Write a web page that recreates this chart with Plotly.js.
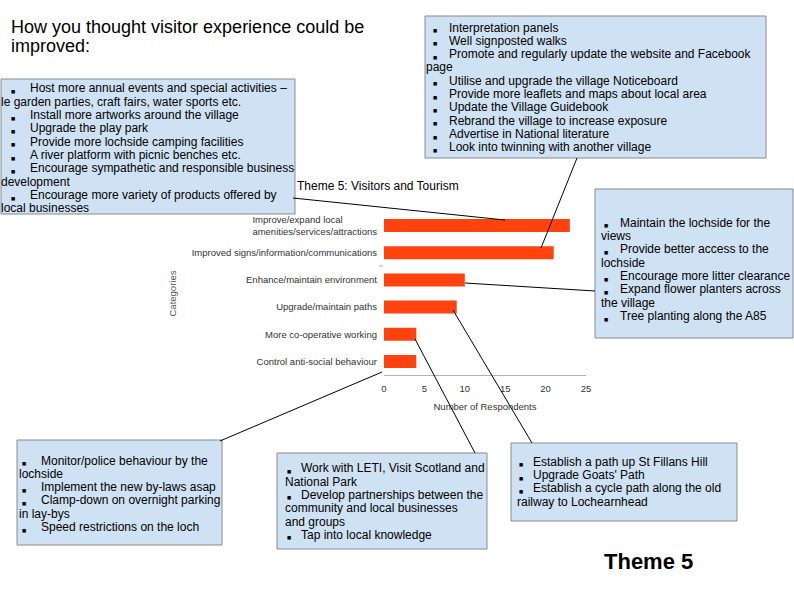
<!DOCTYPE html>
<html>
<head>
<meta charset="utf-8">
<script src="https://cdn.plot.ly/plotly-3.0.1.min.js"></script>
<style>html,body{margin:0;padding:0;background:#fff;}#chart{width:794px;height:595px;}</style>
</head>
<body>
<div id="chart"></div>
<script>
// ---------- data ----------
const categories = [
  "Improve/expand local amenities/services/attractions",
  "Improved signs/information/communications",
  "Enhance/maintain environment",
  "Upgrade/maintain paths",
  "More co-operative working",
  "Control anti-social behaviour"
];
const responses = [23, 21, 10, 9, 4, 4];
const xTicks = [0, 5, 10, 15, 20, 25];

const pageTitle = ["How you thought visitor experience could be", "improved:"];
const chartTitle = "Theme 5: Visitors and Tourism";
const xTitle = "Number of Respondents";
const yTitle = "Categories";
const footer = "Theme 5";

// callout texts (each item: first line gets a bullet, later lines are wrapped continuation)
const amenitiesIdeas = [
  ["Host more annual events and special activities \u2013", "le garden parties, craft fairs, water sports etc."],
  ["Install more artworks around the village"],
  ["Upgrade the play park"],
  ["Provide more lochside camping facilities"],
  ["A river platform with picnic benches etc."],
  ["Encourage sympathetic and responsible business", "development"],
  ["Encourage more variety of products offered by", "local businesses"]
];
const signsIdeas = [
  ["Interpretation panels"],
  ["Well signposted walks"],
  ["Promote and regularly update the website and Facebook", "page"],
  ["Utilise and upgrade the village Noticeboard"],
  ["Provide more leaflets and maps about local area"],
  ["Update the Village Guidebook"],
  ["Rebrand the village to increase exposure"],
  ["Advertise in National literature"],
  ["Look into twinning with another village"]
];
const environmentIdeas = [
  ["Maintain the lochside for the", "views"],
  ["Provide better access to the", "lochside"],
  ["Encourage more litter clearance"],
  ["Expand flower planters across", "the village"],
  ["Tree planting along the A85"]
];
const behaviourIdeas = [
  ["Monitor/police behaviour by the", "lochside"],
  ["Implement the new by-laws asap"],
  ["Clamp-down on overnight parking", "in lay-bys"],
  ["Speed restrictions on the loch"]
];
const cooperationIdeas = [
  ["Work with LETI, Visit Scotland and", "National Park"],
  ["Develop partnerships between the", "community and local businesses", "and groups"],
  ["Tap into local knowledge"]
];
const pathIdeas = [
  ["Establish a path up St Fillans Hill"],
  ["Upgrade Goats' Path"],
  ["Establish a cycle path along the old", "railway to Lochearnhead"]
];

// ---------- layout helpers ----------
const W = 794, H = 595;
const PL = 384, PR = 586, PT = 212, PB = 375;
const px = x => (x - PL) / (PR - PL);
const py = y => (PB - y) / (PB - PT);
const FONT = "Liberation Sans, Arial, sans-serif";

const shapes = [];
const annotations = [];

function addBox(items, g) {
  shapes.push({type: "rect", xref: "paper", yref: "paper", layer: "below",
    x0: px(g.x0), x1: px(g.x1), y0: py(g.y0), y1: py(g.y1),
    fillcolor: "#cfe2f3", line: {color: "#8a8a8a", width: 1}});
  let row = 0;
  items.forEach(item => {
    item.forEach((t, k) => {
      const cy = g.first + row * g.step;
      if (k === 0) {
        annotations.push({xref: "paper", yref: "paper", x: px(g.bullet), y: py(cy + 3),
          xanchor: "left", yanchor: "middle", showarrow: false, borderpad: 0, borderwidth: 0,
          text: "\u25A0", font: {family: "DejaVu Sans", size: 4.5, color: "#000"}});
      }
      annotations.push({xref: "paper", yref: "paper", x: px(k === 0 ? g.text : g.cont), y: py(cy),
        xanchor: "left", yanchor: "middle", showarrow: false, borderpad: 0, borderwidth: 0,
        text: t, font: {family: FONT, size: 12, color: "#000"}});
      row++;
    });
  });
}

addBox(amenitiesIdeas,   {x0: 1,   x1: 295, y0: 79,  y1: 214, first: 88.5,  step: 13.33, cont: 1,   bullet: 11,  text: 30});
addBox(signsIdeas,       {x0: 425, x1: 766, y0: 16,  y1: 158, first: 27.5,  step: 13.33, cont: 426, bullet: 433, text: 449});
addBox(environmentIdeas, {x0: 595, x1: 793, y0: 189, y1: 338, first: 222.7, step: 13.33, cont: 601, bullet: 604, text: 620});
addBox(behaviourIdeas,   {x0: 17,  x1: 222, y0: 440, y1: 545, first: 460.5, step: 13.33, cont: 19,  bullet: 22,  text: 41});
addBox(cooperationIdeas, {x0: 277, x1: 487, y0: 453, y1: 549, first: 468.3, step: 13.33, cont: 285, bullet: 287, text: 301});
addBox(pathIdeas,        {x0: 511, x1: 737, y0: 443, y1: 521, first: 461.7, step: 13.33, cont: 517, bullet: 519, text: 533});

// connector lines
[[293,198,505,220],[577,158,541,248],[465,283,595,291],[453,310,532,443],[415,339,475,453],[382,372,220,441]]
  .forEach(c => shapes.push({type: "line", xref: "paper", yref: "paper", layer: "above",
    x0: px(c[0]), y0: py(c[1]), x1: px(c[2]), y1: py(c[3]), line: {color: "#000", width: 1}}));
// small category divider mark
shapes.push({type: "line", xref: "paper", yref: "paper", x0: px(379), x1: px(383), y0: py(266), y1: py(266),
  line: {color: "#aaaaaa", width: 1}});

// page title lines
pageTitle.forEach((t, i) => annotations.push({xref: "paper", yref: "paper", x: px(11), y: py(26.5 + i * 19.5),
  xanchor: "left", yanchor: "middle", showarrow: false, borderpad: 0, borderwidth: 0,
  text: t, font: {family: FONT, size: 18, color: "#000"}}));
// footer
annotations.push({xref: "paper", yref: "paper", x: px(648), y: py(561), xanchor: "center", yanchor: "middle",
  showarrow: false, text: "<b>" + footer + "</b>", font: {family: FONT, size: 22, color: "#000"}});

// tick labels: first category wrapped onto two left-aligned lines
const tickText = categories.map(c => {
  const m = c.match(/^(Improve\/expand local) (.*)$/);
  return m ? m[1] + "\u00a0".repeat(13) + "<br>" + m[2] : c;
});

const data = [{
  type: "bar", orientation: "h",
  x: responses, y: categories,
  marker: {color: "#ff420e"}, width: 0.48,
  hoverinfo: "skip"
}];

const layout = {
  width: W, height: H,
  margin: {l: PL, r: W - PR, t: PT, b: H - PB, pad: 0},
  paper_bgcolor: "#fff", plot_bgcolor: "rgba(0,0,0,0)",
  showlegend: false, hovermode: false,
  font: {family: FONT, color: "#333"},
  title: {text: chartTitle, font: {family: FONT, size: 12, color: "#000"},
    xref: "container", yref: "container", x: 297 / W, xanchor: "left", y: 1 - 186 / H, yanchor: "middle"},
  xaxis: {range: [0, 25], tickvals: xTicks, ticks: "", showgrid: false, zeroline: false,
    showline: true, linecolor: "#b3b3b3", linewidth: 1, ticklabelstandoff: 5,
    tickfont: {family: FONT, size: 9.5, color: "#333"},
    title: {text: xTitle, font: {family: FONT, size: 9.5, color: "#333"}, standoff: 9}},
  yaxis: {type: "category", categoryorder: "array", categoryarray: categories,
    tickvals: categories, ticktext: tickText, ticklabelstandoff: 6,
    range: [5.5, -0.5], ticks: "", showgrid: false, zeroline: false, showline: false,
    tickfont: {family: FONT, size: 9.5, color: "#333"},
    title: {text: yTitle, font: {family: FONT, size: 9.5, color: "#555"}, standoff: 13}},
  shapes: shapes,
  annotations: annotations
};

Plotly.newPlot("chart", data, layout, {staticPlot: true, displayModeBar: false});
</script>
</body>
</html>
